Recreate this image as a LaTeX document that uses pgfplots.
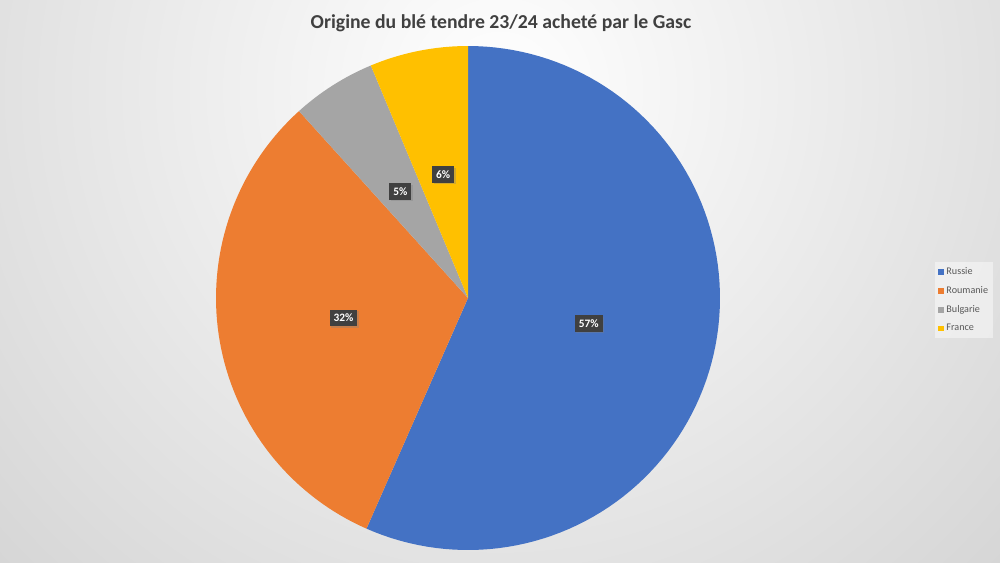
\documentclass[border=0pt]{standalone}
\usepackage{pgfplots}
\pgfplotsset{compat=1.18}
\usepackage{fontspec}
\setmainfont{Carlito}
\usetikzlibrary{shadows}

\definecolor{cRussie}{HTML}{4472C4}
\definecolor{cRoumanie}{HTML}{ED7D31}
\definecolor{cBulgarie}{HTML}{A5A5A5}
\definecolor{cFrance}{HTML}{FFC000}

\tikzset{lab/.style={fill=black!75, text=white, inner xsep=3pt, inner ysep=3.2pt,
    font=\bfseries\fontsize{8.5}{9}\selectfont,
    drop shadow={opacity=0.35, shadow xshift=1pt, shadow yshift=-1pt}}}

% parts (%)
\def\vA{56.6}
\def\vB{31.7}
\def\vC{5.4}
\def\vD{6.3}

\begin{document}
\begin{tikzpicture}
\pgfmathsetmacro\aA{90}
\pgfmathsetmacro\aB{\aA-3.6*\vA}
\pgfmathsetmacro\aC{\aB-3.6*\vB}
\pgfmathsetmacro\aD{\aC-3.6*\vC}
\pgfmathsetmacro\aE{\aD-3.6*\vD}
\pgfmathsetmacro\mA{(\aA+\aB)/2}
\pgfmathsetmacro\mB{(\aB+\aC)/2}
\pgfmathsetmacro\mC{(\aC+\aD)/2}
\pgfmathsetmacro\mD{(\aD+\aE)/2}

% background and title (1 px = 0.75 pt)
\begin{scope}[x=0.75pt,y=-0.75pt]
  \begin{scope}
    \clip (0,0) rectangle (1000,562);
    \shade[inner color=white, outer color=black!28] (500,90) circle (1200);
  \end{scope}
  \node[font=\bfseries\fontsize{14.8}{17}\selectfont, text=black!75] at (501,23)
    {Origine du blé tendre 23/24 acheté par le Gasc};
\end{scope}

\begin{axis}[
  at={(351pt,-223.5pt)}, anchor=center,
  scale only axis, width=378pt, height=378pt,
  xmin=-1, xmax=1, ymin=-1, ymax=1,
  hide axis, clip=false,
  legend cell align=left,
  legend image code/.code={\fill[#1, fill opacity=1] (0pt,-2.2pt) rectangle (4.4pt,2.2pt);},
  legend style={at={(1.4266,0.5714)}, anchor=north west, draw=none,
    fill=white, fill opacity=0.45, text opacity=1, text=black!65,
    font=\fontsize{7.6}{9}\selectfont, row sep=3.4pt,
    inner xsep=2pt, inner ysep=2pt},
]
\addplot[fill=cRussie, draw=none, domain=\aB:\aA, samples=100, variable=\t]
  ({cos(\t)},{sin(\t)}) -- (0,0) -- cycle;
\addlegendentry{Russie}
\addplot[fill=cRoumanie, draw=none, domain=\aC:\aB, samples=70, variable=\t]
  ({cos(\t)},{sin(\t)}) -- (0,0) -- cycle;
\addlegendentry{Roumanie}
\addplot[fill=cBulgarie, draw=none, domain=\aD:\aC, samples=20, variable=\t]
  ({cos(\t)},{sin(\t)}) -- (0,0) -- cycle;
\addlegendentry{Bulgarie}
\addplot[fill=cFrance, draw=none, domain=\aE:\aD, samples=20, variable=\t]
  ({cos(\t)},{sin(\t)}) -- (0,0) -- cycle;
\addlegendentry{France}

\node[lab] at (axis cs:{0.49*cos(\mA)},{0.49*sin(\mA)}) {57\%};
\node[lab] at (axis cs:{0.5*cos(\mB)},{0.5*sin(\mB)}) {32\%};
\node[lab] at (axis cs:{0.5*cos(\mC)},{0.5*sin(\mC)}) {5\%};
\node[lab] at (axis cs:{0.5*cos(\mD)},{0.5*sin(\mD)}) {6\%};
\end{axis}

\pgfresetboundingbox
\path[use as bounding box] (0,0) rectangle (750pt,-421.5pt);
\end{tikzpicture}
\end{document}
